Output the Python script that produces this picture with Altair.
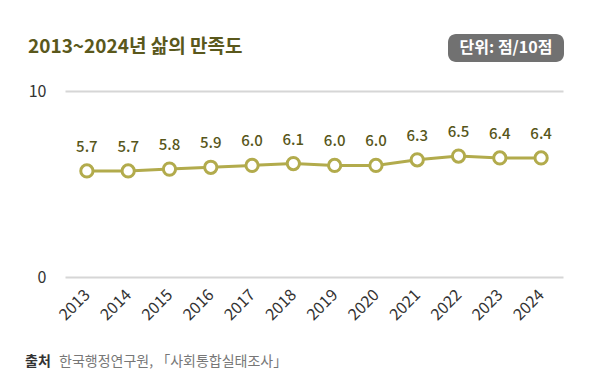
import altair as alt
import pandas as pd

years = ["2013", "2014", "2015", "2016", "2017", "2018", "2019", "2020", "2021", "2022", "2023", "2024"]
scores = [5.7, 5.7, 5.8, 5.9, 6.0, 6.1, 6.0, 6.0, 6.3, 6.5, 6.4, 6.4]
y_ticks = [0, 10]

title_text = "2013~2024년 삶의 만족도"
unit_text = "단위: 점/10점"
source_label = "출처"
source_text = "한국행정연구원, 「사회통합실태조사」"

df = pd.DataFrame({"year": years, "score": scores})
df["label"] = [f"{v:.1f}" for v in scores]

FONT = "Noto Sans CJK KR"
LINE = "#b2ab4c"
DARK_OLIVE = "#57561a"

x_enc = alt.X("year:O", scale=alt.Scale(type="point", padding=0.53),
              axis=alt.Axis(title=None, labelAngle=-45, labelAlign="right", labelBaseline="middle",
                            labelPadding=15, ticks=False, domain=False, labelFontSize=16,
                            labelColor="#333333", labelFont=FONT, grid=False))
y_enc = alt.Y("score:Q", scale=alt.Scale(domain=[0, 10]),
              axis=alt.Axis(title=None, values=y_ticks, ticks=False, domain=False, grid=True,
                            gridColor="#d6d6d6", gridWidth=2, labelPadding=19, labelFontSize=16,
                            labelColor="#333333", labelFont=FONT))

base = alt.Chart(df)
line = base.mark_line(color=LINE, strokeWidth=3).encode(x=x_enc, y=y_enc)
points = base.mark_point(filled=True, fill="white", stroke=LINE, strokeWidth=3, size=150, opacity=1).encode(
    x="year:O", y="score:Q")
labels = base.mark_text(dy=-24, fontSize=15, font=FONT, fontWeight=500, color=DARK_OLIVE).encode(
    x="year:O", y="score:Q", text="label:N")

ann = pd.DataFrame({"k": [0]})
title = alt.Chart(ann).mark_text(text=title_text, align="left", baseline="alphabetic", fontSize=19,
                                  fontWeight="bold", font=FONT, color="#5a581c").encode(
    x=alt.value(-37), y=alt.value(-38))
badge = alt.Chart(ann).mark_rect(color="#717171", cornerRadius=8).encode(
    x=alt.value(383), x2=alt.value(499), y=alt.value(-57), y2=alt.value(-29))
badge_text = alt.Chart(ann).mark_text(text=unit_text, align="center", baseline="middle", fontSize=16,
                                      fontWeight="bold", font=FONT, color="white").encode(
    x=alt.value(441), y=alt.value(-43))
src1 = alt.Chart(ann).mark_text(text=source_label, align="left", baseline="alphabetic", fontSize=14,
                                fontWeight="bold", font=FONT, color="#333333").encode(
    x=alt.value(-40), y=alt.value(275))
src2 = alt.Chart(ann).mark_text(text=source_text, align="left", baseline="alphabetic", fontSize=14,
                                font=FONT, color="#777777").encode(
    x=alt.value(-6), y=alt.value(275))

chart = alt.layer(line, points, labels, title, badge, badge_text, src1, src2).properties(
    width=498, height=186,
    autosize=alt.AutoSizeParams(type="none"),
    padding={"left": 57, "top": 83, "right": 29, "bottom": 98},
    background="white",
).configure_view(stroke=None)

chart.save("out.html", embed_options={"renderer": "svg", "actions": False})
